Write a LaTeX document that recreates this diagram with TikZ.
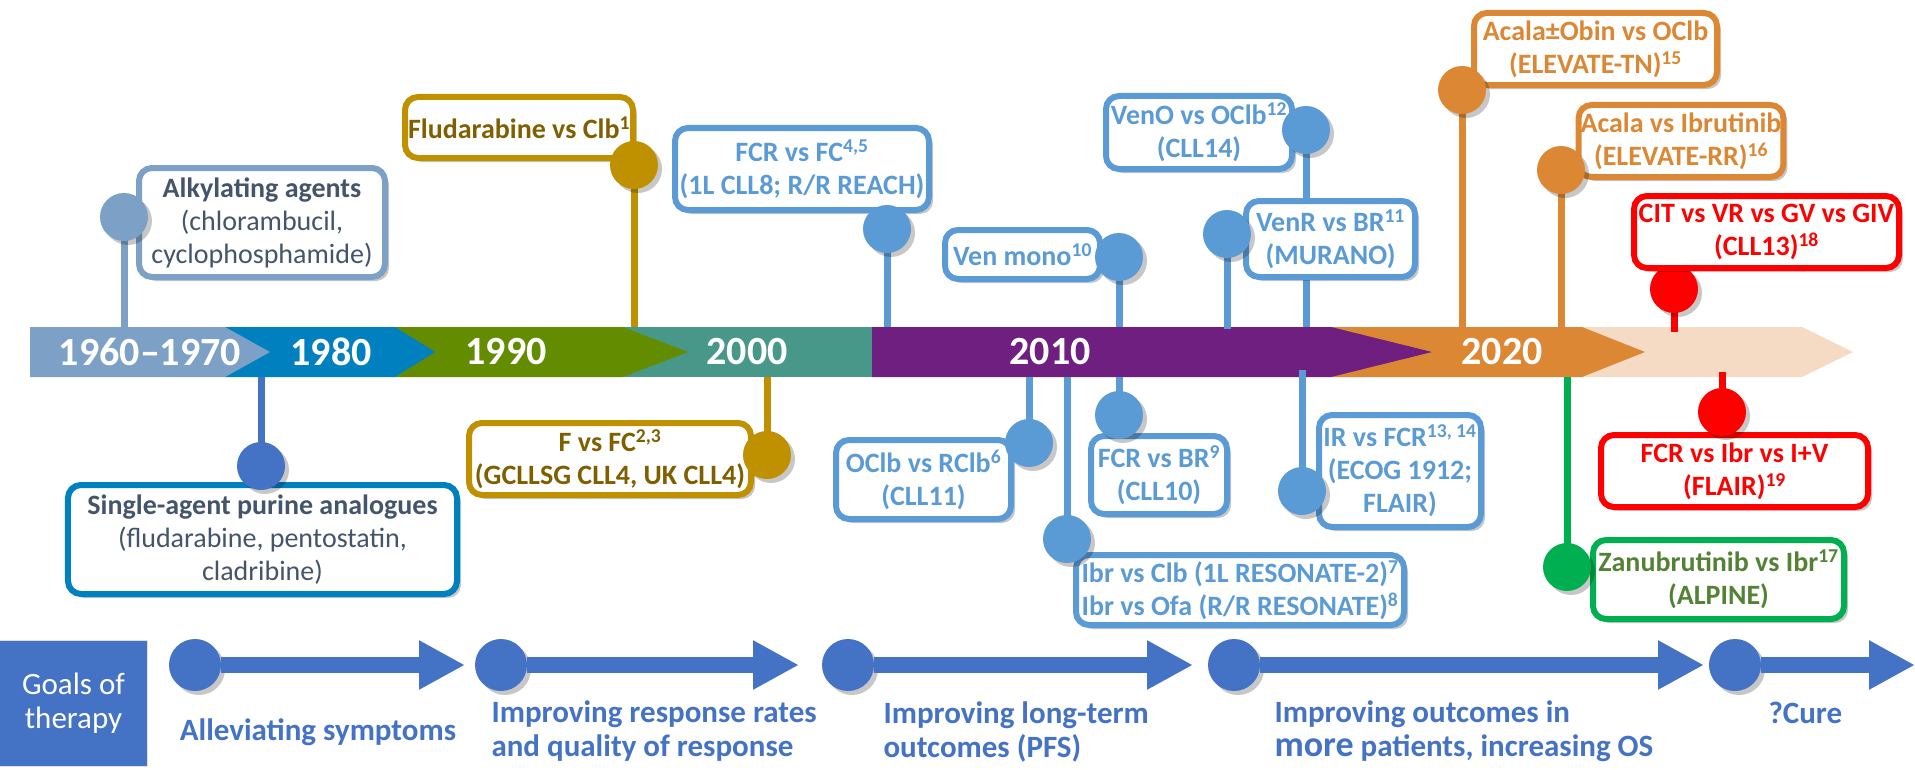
\documentclass[tikz,border=0pt]{standalone}
\usepackage{fontspec}
\setmainfont{Carlito}
\usetikzlibrary{shadows,arrows.meta}
\definecolor{csteel}{HTML}{7DA1C6}
\definecolor{cblue}{HTML}{0080BF}
\definecolor{cgreen}{HTML}{638C00}
\definecolor{cteal}{HTML}{479889}
\definecolor{cpurple}{HTML}{6F1F7F}
\definecolor{corange}{HTML}{DC8734}
\definecolor{cpeach}{HTML}{F5DBC4}
\definecolor{goldB}{HTML}{BF9000}
\definecolor{goldT}{HTML}{7F6000}
\definecolor{lblue}{HTML}{5B9BD5}
\definecolor{cred}{HTML}{FF0000}
\definecolor{greenB}{HTML}{00B050}
\definecolor{greenT}{HTML}{548235}
\definecolor{royal}{HTML}{4472C4}
\definecolor{slate}{HTML}{44546A}
\tikzset{
  shad/.style={drop shadow={shadow xshift=4bp,shadow yshift=-4bp,fill=black,opacity=0.22}},
  tbox/.style 2 args={draw=#1,text=#2,line width=6bp,fill=white,rounded corners=13bp,
    align=center,inner sep=2bp,shad,font=\fontsize{28bp}{33bp}\selectfont\bfseries},
  pinc/.style={circle,fill=#1,minimum size=48bp,inner sep=0pt,shad},
  stem/.style={draw=#1,line width=7bp},
  year/.style={text=white,font=\fontsize{40bp}{44bp}\selectfont\bfseries},
  goalc/.style={circle,fill=royal,minimum size=52bp,inner sep=0pt,shad},
  goal/.style={draw=royal,line width=16bp,-{Triangle[length=46bp,width=46bp]}},
  glabel/.style={text=royal,align=left,font=\fontsize{31bp}{34bp}\selectfont\bfseries},
}
\begin{document}
\begin{tikzpicture}[x=1bp,y=-1bp]
\useasboundingbox[fill=white] (0,0) rectangle (1915,770);

% ---- time band ----
\fill[cpeach] (1582,327) -- (1802,327) -- (1853,352) -- (1802,377) -- (1582,377) -- cycle;
\fill[corange] (1331,327) -- (1582,327) -- (1645,352) -- (1582,377) -- (1331,377) -- cycle;
\fill[cpurple] (872,327) -- (1331,327) -- (1432,352) -- (1331,377) -- (872,377) -- cycle;
\fill[cteal] (623,327) -- (872,327) -- (872,377) -- (623,377) -- cycle;
\fill[cgreen] (395,327) -- (623,327) -- (688,352) -- (623,377) -- (395,377) -- cycle;
\fill[cblue] (225,327) -- (395,327) -- (435,352) -- (395,377) -- (225,377) -- cycle;
\fill[csteel] (30,327) -- (225,327) -- (270,352) -- (225,377) -- (30,377) -- cycle;

\node[year] (y1) at (150,352) {1960–1970};
\node[year] (y2) at (331,352) {1980};
\node[year] (y3) at (506,352) {1990};
\node[year] (y4) at (747,352) {2000};
\node[year] (y5) at (1050,352) {2010};
\node[year] (y6) at (1502,352) {2020};

% ---- pin centres and stem ends ----
\coordinate (palk) at (124,217);   \coordinate (ealk) at (124,327);
\coordinate (pflu) at (634,165);   \coordinate (eflu) at (634,327);
\coordinate (pfcr) at (887,229);   \coordinate (efcr) at (887,327);
\coordinate (pven) at (1119,257);  \coordinate (even) at (1119,327);
\coordinate (pveno) at (1306,130); \coordinate (eveno) at (1306,327);
\coordinate (pvenr) at (1227,234); \coordinate (evenr) at (1227,329);
\coordinate (pacob) at (1462,90);  \coordinate (eacob) at (1462,327);
\coordinate (pacib) at (1561,170); \coordinate (eacib) at (1561,327);
\coordinate (pcit) at (1674,289);  \coordinate (ecit) at (1674,332);
\coordinate (pflair) at (1722,412);\coordinate (eflair) at (1722,372);
\coordinate (pzanu) at (1567,567); \coordinate (ezanu) at (1567,377);
\coordinate (pir) at (1302,491);   \coordinate (eir) at (1302,370);
\coordinate (poclb) at (1029,443); \coordinate (eoclb) at (1029,377);
\coordinate (pfcrbr) at (1119,415);\coordinate (efcrbr) at (1119,377);
\coordinate (pibr) at (1067,539);  \coordinate (eibr) at (1067,377);
\coordinate (pfvfc) at (767,455);  \coordinate (efvfc) at (767,377);
\coordinate (psing) at (261,466);  \coordinate (esing) at (261,377);

\draw[stem=csteel] (palk) -- (ealk);
\draw[stem=goldB] (pflu) -- (eflu);
\draw[stem=lblue] (pfcr) -- (efcr);
\draw[stem=lblue] (pven) -- (even);
\draw[stem=lblue] (pveno) -- (eveno);
\draw[stem=lblue] (pvenr) -- (evenr);
\draw[stem=corange] (pacob) -- (eacob);
\draw[stem=corange] (pacib) -- (eacib);
\draw[stem=cred] (pcit) -- (ecit);
\draw[stem=cred] (pflair) -- (eflair);
\draw[stem=greenB] (pzanu) -- (ezanu);
\draw[stem=lblue] (pir) -- (eir);
\draw[stem=lblue] (poclb) -- (eoclb);
\draw[stem=lblue] (pfcrbr) -- (efcrbr);
\draw[stem=lblue] (pibr) -- (eibr);
\draw[stem=goldB] (pfvfc) -- (efvfc);
\draw[stem=royal] (psing) -- (esing);

\node[pinc=cred] (ccit) at (pcit) {};

% ---- boxes ----
\node[tbox={csteel}{slate},minimum width=246bp,minimum height=109bp,font=\fontsize{28bp}{33bp}\selectfont] (alk) at (262,222.5)
  {{\bfseries Alkylating agents}\\(chlorambucil,\\cyclophosphamide)};
\node[tbox={goldB}{goldT},minimum width=228bp,minimum height=61bp] (flu) at (519,127.5)
  {Fludarabine vs Clb\textsuperscript{1}};
\node[tbox={lblue}{lblue},minimum width=254bp,minimum height=82bp] (fcrfc) at (802,169)
  {FCR vs FC\textsuperscript{4,5}\\(1L CLL8; R/R REACH)};
\node[tbox={lblue}{lblue},minimum width=155bp,minimum height=49bp] (venmono) at (1022.5,254.5)
  {Ven mono\textsuperscript{10}};
\node[tbox={lblue}{lblue},minimum width=186bp,minimum height=73bp] (veno) at (1199,132.5)
  {VenO vs OClb\textsuperscript{12}\\(CLL14)};
\node[tbox={lblue}{lblue},minimum width=169bp,minimum height=76bp] (venr) at (1330.5,239)
  {VenR vs BR\textsuperscript{11}\\(MURANO)};
\node[tbox={corange}{corange},minimum width=243bp,minimum height=72bp] (acob) at (1595.5,49)
  {Acala±Obin vs OClb\\(ELEVATE-TN)\textsuperscript{15}};
\node[tbox={corange}{corange},minimum width=204bp,minimum height=72bp] (acib) at (1681,141)
  {Acala vs Ibrutinib\\(ELEVATE-RR)\textsuperscript{16}};
\node[tbox={cred}{cred},minimum width=265bp,minimum height=72bp] (cit) at (1766.5,232)
  {CIT vs VR vs GV vs GIV\\(CLL13)\textsuperscript{18}};
\node[tbox={cred}{cred},minimum width=267bp,minimum height=72bp] (flair) at (1734.5,471)
  {FCR vs Ibr vs I+V\\(FLAIR)\textsuperscript{19}};
\node[tbox={greenB}{greenT},minimum width=251bp,minimum height=79bp] (zanu) at (1718.5,579.5)
  {Zanubrutinib vs Ibr\textsuperscript{17}\\(ALPINE)};
\node[tbox={lblue}{lblue},minimum width=162bp,minimum height=112bp] (ir) at (1400,471)
  {IR vs FCR\textsuperscript{13, 14}\\(ECOG 1912;\\FLAIR)};
\node[tbox={lblue}{lblue},minimum width=175bp,minimum height=79bp] (oclb) at (923.5,479.5)
  {OClb vs RClb\textsuperscript{6}\\(CLL11)};
\node[tbox={lblue}{lblue},minimum width=136bp,minimum height=78bp] (fcrbr) at (1159,475)
  {FCR vs BR\textsuperscript{9}\\(CLL10)};
\node[tbox={lblue}{lblue},minimum width=328bp,minimum height=70bp] (ibr) at (1240,590)
  {Ibr vs Clb (1L RESONATE-2)\textsuperscript{7}\\Ibr vs Ofa (R/R RESONATE)\textsuperscript{8}};
\node[tbox={goldB}{goldT},minimum width=282bp,minimum height=72bp] (fvfc) at (610,459)
  {F vs FC\textsuperscript{2,3}\\(GCLLSG CLL4, UK CLL4)};
\node[tbox={cblue}{slate},minimum width=389bp,minimum height=109bp,font=\fontsize{28bp}{33bp}\selectfont] (single) at (262.5,539.5)
  {{\bfseries Single-agent purine analogues}\\(fludarabine, pentostatin,\\cladribine)};

% ---- pins ----
\node[pinc=csteel] (calk) at (palk) {};
\node[pinc=goldB] (cflu) at (pflu) {};
\node[pinc=lblue] (cfcr) at (pfcr) {};
\node[pinc=lblue] (cven) at (pven) {};
\node[pinc=lblue] (cveno) at (pveno) {};
\node[pinc=lblue] (cvenr) at (pvenr) {};
\node[pinc=corange] (cacob) at (pacob) {};
\node[pinc=corange] (cacib) at (pacib) {};
\node[pinc=cred] (cflair) at (pflair) {};
\node[pinc=greenB] (czanu) at (pzanu) {};
\node[pinc=lblue] (cir) at (pir) {};
\node[pinc=lblue] (coclb) at (poclb) {};
\node[pinc=lblue] (cfcrbr) at (pfcrbr) {};
\node[pinc=lblue] (cibr) at (pibr) {};
\node[pinc=goldB] (cfvfc) at (pfvfc) {};
\node[pinc=royal] (csing) at (psing) {};

% ---- goals of therapy ----
\node[fill=royal,draw=black!12,line width=1bp,minimum width=147bp,minimum height=126bp,inner sep=0pt,
  text=white,align=center,font=\fontsize{31bp}{34bp}\selectfont] (goals) at (73.5,703) {Goals of\\therapy};

\node[goalc] (g1) at (195,665) {};
\node[goalc] (g2) at (501,665) {};
\node[goalc] (g3) at (848,665) {};
\node[goalc] (g4) at (1234,665) {};
\node[goalc] (g5) at (1735,665) {};
\coordinate (t1) at (465,665);
\coordinate (t2) at (799,665);
\coordinate (t3) at (1193,665);
\coordinate (t4) at (1704,665);
\coordinate (t5) at (1915,665);
\draw[goal] (g1) -- (t1);
\draw[goal] (g2) -- (t2);
\draw[goal] (g3) -- (t3);
\draw[goal] (g4) -- (t4);
\draw[goal] (g5) -- (t5);

\node[glabel] (l1) at (318,732) {Alleviating symptoms};
\node[glabel,anchor=west] (l2) at (488,731.5) {Improving response rates\\and quality of response};
\node[glabel,anchor=west] (l3) at (880,731.5) {Improving long-term\\outcomes (PFS)};
\node[glabel,anchor=west] (l4) at (1271,731.5) {Improving outcomes in\\{\fontsize{36bp}{34bp}\selectfont more} patients, increasing OS};
\node[glabel,anchor=west] (l5) at (1765,713) {?Cure};
\end{tikzpicture}
\end{document}
